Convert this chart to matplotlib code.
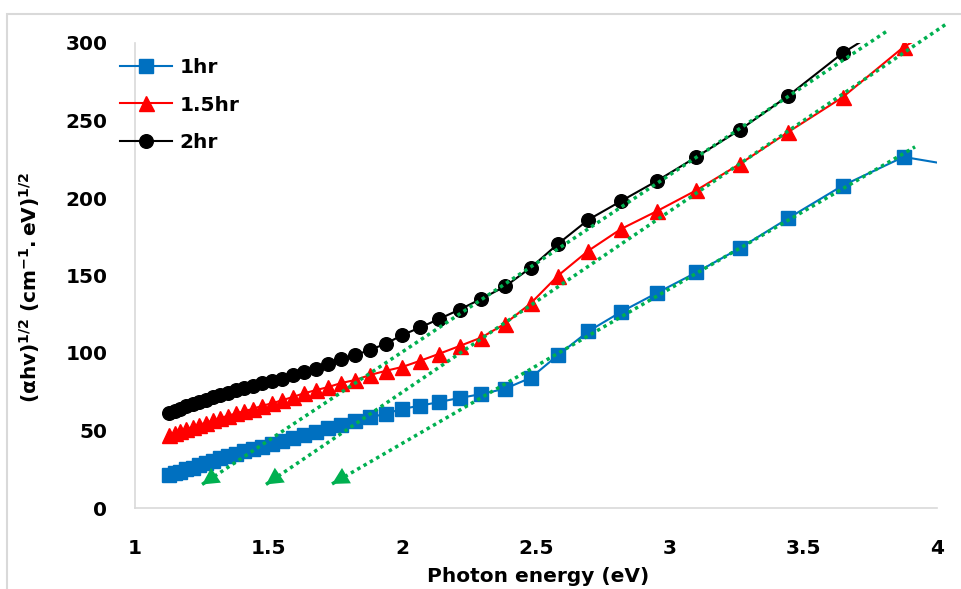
import matplotlib
matplotlib.use('Agg')
import matplotlib.pyplot as plt
from matplotlib.patches import Rectangle

# ---------------- data ----------------
energy_eV = [1.127, 1.148, 1.170, 1.192, 1.216, 1.240, 1.265, 1.292, 1.319, 1.348,
             1.378, 1.409, 1.442, 1.476, 1.512, 1.550, 1.590, 1.632, 1.676, 1.722,
             1.771, 1.824, 1.879, 1.938, 2.000, 2.067, 2.138, 2.214, 2.296, 2.385,
             2.480, 2.583, 2.696, 2.818, 2.952, 3.100, 3.263, 3.444, 3.647, 3.875,
             4.133]

hr1 = [21, 22.5, 23.5, 25, 26, 27.5, 29, 30.5, 32, 33.5,
       35, 36.5, 38, 39.5, 41, 43, 45, 47, 49, 51.5,
       53.5, 56, 58.5, 60.8, 64, 66, 68.4, 71, 73.5, 77,
       84, 98.7, 114, 126.5, 138.7, 152, 167.7, 187, 208, 226.5,
       219]

hr15 = [47, 48.5, 49.5, 51, 52, 53.5, 55, 56.5, 58, 59.5,
        61, 62.5, 64, 66, 67.5, 69.5, 71.6, 74, 76, 78,
        80.6, 82.6, 85.8, 88.5, 91, 95, 99.5, 104.5, 110, 119,
        132, 150, 166, 180, 191.5, 205, 222, 242.6, 265, 297.4,
        323]

hr2 = [61, 62.5, 64, 65.5, 67, 68.5, 70, 71.5, 73, 74.5,
       76, 77.5, 79, 80.5, 82, 83.5, 85.5, 87.7, 90, 93,
       96, 98.7, 102, 106, 111.6, 116.5, 122, 128, 135, 143,
       155, 170.5, 186, 198, 211, 226.5, 244, 266, 293.5, 318,
       345]

series_labels = ['1hr', '1.5hr', '2hr']

# tangent (band-gap extrapolation) lines: arrow tip -> far end
tangent_tip_E = [1.251, 1.490, 1.737]
tangent_tip_val = [15.2, 15.2, 15.5]
tangent_end_E = [3.813, 4.041, 3.918]
tangent_end_val = [307.7, 313.0, 233.0]

x_ticks = [1, 1.5, 2, 2.5, 3, 3.5, 4]
x_tick_labels = ['1', '1.5', '2', '2.5', '3', '3.5', '4']
y_ticks = [0, 50, 100, 150, 200, 250, 300]

# ---------------- style ----------------
plt.rcParams['font.family'] = ['DejaVu Sans']
plt.rcParams['mathtext.fontset'] = 'dejavusans'

FS = 14.5
W, H = 961, 589
fig = plt.figure(figsize=(W / 100, H / 100), dpi=100)
ax = fig.add_axes([135 / W, 1 - 508 / H, (937 - 135) / W, (508 - 43) / H])

BLUE = '#0070C0'
RED = '#FF0000'
BLACK = '#000000'
GREEN = '#00B050'
GRAY = '#D9D9D9'

ax.plot(energy_eV, hr1, color=BLUE, lw=1.5, marker='s', ms=9.8,
        mfc=BLUE, mec=BLUE, label=series_labels[0], zorder=3)
ax.plot(energy_eV, hr15, color=RED, lw=1.5, marker='^', ms=10.8,
        mfc=RED, mec=RED, label=series_labels[1], zorder=3)
ax.plot(energy_eV, hr2, color=BLACK, lw=1.5, marker='o', ms=9.8,
        mfc=BLACK, mec=BLACK, label=series_labels[2], zorder=3)

for x0, y0, x1, y1 in zip(tangent_tip_E, tangent_tip_val, tangent_end_E, tangent_end_val):
    ax.plot([x0, x1], [y0, y1], color=GREEN, lw=2.5, ls=(0, (1, 1.1)),
            dash_capstyle='butt', clip_on=False, zorder=5)
    fx = x0 + (x1 - x0) * 0.03
    fy = y0 + (y1 - y0) * 0.03
    ax.annotate('', xy=(x0, y0), xytext=(fx, fy),
                arrowprops=dict(arrowstyle='-|>,head_length=0.6,head_width=0.32',
                                mutation_scale=20, color=GREEN, lw=0,
                                shrinkA=0, shrinkB=0),
                annotation_clip=False, zorder=6)

ax.set_xlim(1, 4)
ax.set_ylim(0, 300)
ax.set_xticks(x_ticks)
ax.set_xticklabels(x_tick_labels)
ax.set_yticks(y_ticks)
ax.tick_params(length=0, labelsize=FS)
ax.tick_params(axis='y', pad=20)
ax.tick_params(axis='x', pad=22)
for lab in ax.get_xticklabels() + ax.get_yticklabels():
    lab.set_fontweight('bold')

for s in ['top', 'right']:
    ax.spines[s].set_visible(False)
for s in ['left', 'bottom']:
    ax.spines[s].set_color(GRAY)
    ax.spines[s].set_linewidth(1.2)

fig.text(538 / W, 1 - 577 / H, 'Photon energy (eV)', ha='center', va='center',
         fontsize=FS, fontweight='bold')
fig.text(30 / W, 1 - 288 / H,
         r'$\mathbf{(\alpha hv)^{1/2}\ (cm^{-1}{.}eV)^{1/2}}$',
         rotation=90, ha='center', va='center', fontsize=FS)

leg = ax.legend(loc='upper left', bbox_to_anchor=(120 / W, 1 - 58 / H),
                bbox_transform=fig.transFigure, frameon=False, fontsize=FS,
                handlelength=2.6, handletextpad=0.35, labelspacing=0.92,
                borderpad=0, borderaxespad=0)
for t in leg.get_texts():
    t.set_fontweight('bold')

fig.patches.append(Rectangle((7 / W, -0.05), 1.1, 1 - 14 / H + 0.05,
                             transform=fig.transFigure, fill=False,
                             edgecolor=GRAY, lw=1.5, zorder=0))

fig.savefig('out.png', dpi=100)
